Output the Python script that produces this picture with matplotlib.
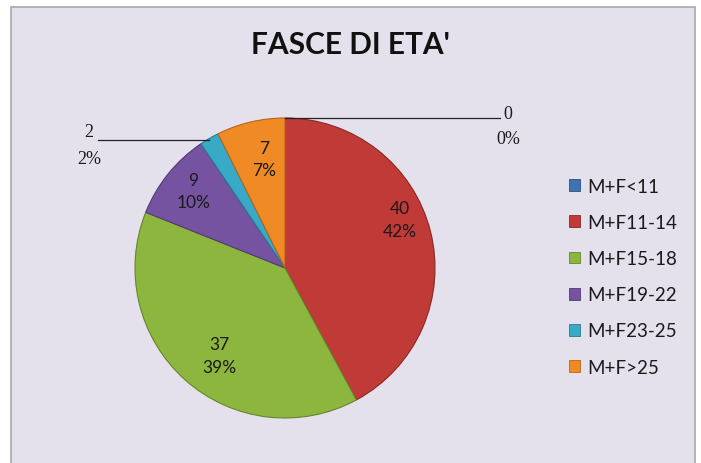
import numpy as np
import matplotlib.pyplot as plt
from matplotlib.patches import Rectangle, Patch

# dati
categorie = ['M+F<11', 'M+F11-14', 'M+F15-18', 'M+F19-22', 'M+F23-25', 'M+F>25']
valori = [0, 40, 37, 9, 2, 7]
percentuali = [0, 42, 39, 10, 2, 7]
colori = ['#3F72B0', '#C03A38', '#8DB63E', '#7553A0', '#38AAC8', '#F08A25']
bordi = ['#2A5080', '#8A2824', '#65852C', '#523A75', '#237C94', '#B8641A']
titolo = "FASCE DI ETA'"

# posizioni etichette interne (raggio, angolo) - layout
pos_interne = {1: (0.83, 23), 2: (0.73, 233), 3: (0.80, 140), 5: (0.74, 101)}

fig = plt.figure(figsize=(7.01, 4.64), dpi=100)
fig.patch.set_facecolor('white')
# riquadro del grafico (bordo inferiore fuori immagine)
sfondo = Rectangle((11 / 701, -4 / 464), 684 / 701, 460 / 464,
                   transform=fig.transFigure, facecolor='#E5E1EC',
                   edgecolor='#A8A8A8', linewidth=1.2, zorder=-5)
fig.patches.append(sfondo)

fig.text(350 / 701, 1 - 45 / 464, titolo, ha='center', va='center',
         fontsize=21.5, fontweight='bold', family='Lato', color='#111111')

ax = fig.add_axes([135 / 701, (464 - 269 - 150) / 464, 300 / 701, 300 / 464])
ax.set_zorder(2)
ax.set_facecolor('none')
wedges, _ = ax.pie(valori, colors=colori, startangle=90, counterclock=False,
                   radius=1.0, wedgeprops=dict(linewidth=0.8))
for w, b in zip(wedges, bordi):
    w.set_edgecolor(b)
ax.set_xlim(-1, 1)
ax.set_ylim(-1, 1)
ax.set_aspect('auto')
ax.axis('off')

for i, (r, ang) in pos_interne.items():
    a = np.deg2rad(ang)
    ax.text(r * np.cos(a), r * np.sin(a), f'{valori[i]}\n{percentuali[i]}%',
            ha='center', va='center', fontsize=12.5, family='Lato',
            color='#1A1A1A', linespacing=1.5)

# etichette con linea guida
for i in [0, 4]:
    w = wedges[i]
    mid = np.deg2rad((w.theta1 + w.theta2) / 2)
    x0, y0 = np.cos(mid), np.sin(mid)
    if i == 0:
        x1, xt, dy1, dy2 = 1.433, 1.487, 0.03, -0.14
        yl = y0
    else:
        x1, xt, dy1, dy2 = -1.247, -1.307, 0.06, -0.12
        yl = y0 - 0.01
    ax.plot([x0, x1], [yl, yl], color='#222222', lw=0.9, clip_on=False)
    ax.text(xt, yl + dy1, f'{valori[i]}', ha='center', va='center',
            fontsize=13, family='Liberation Serif', color='#1A1A1A')
    ax.text(xt, yl + dy2, f'{percentuali[i]}%', ha='center', va='center',
            fontsize=13, family='Liberation Serif', color='#1A1A1A')

maniglie = [Patch(facecolor=c, edgecolor=b, linewidth=0.6) for c, b in zip(colori, bordi)]
fig.legend(maniglie, categorie, loc='upper left',
           bbox_to_anchor=(552 / 701, 1 - 162 / 464), frameon=False,
           prop={'family': 'Lato', 'size': 13.5}, handlelength=0.6,
           handleheight=0.6, handletextpad=0.4, labelspacing=1.02,
           labelcolor='#1A1A1A')

fig.savefig('out.png', dpi=100)
